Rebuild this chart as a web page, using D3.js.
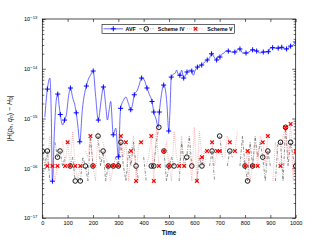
<!DOCTYPE html>
<html><head><meta charset="utf-8">
<script src="https://cdn.jsdelivr.net/npm/d3@7"></script>
<style>
html,body{margin:0;padding:0;background:#fff;}
svg{display:block;font-family:"Liberation Sans",Arial,sans-serif;}
</style></head>
<body>
<svg id="c" width="327" height="245"></svg>
<script>
// ---- data ----
const xTicks = [0,100,200,300,400,500,600,700,800,900,1000];
const yDecades = [-17,-16,-15,-14,-13];
const seriesNames = ["AVF","Scheme IV","Scheme V"];

const avfT = [10,20,30,35,40,48,55,61,66,71,80,88,95,104,111,120,128,134,140,148,158,167,174,182,190,201,210,221,232,241,250,257,264,270,280,290,300,309,320,330,340,349,356,363,375,382,392,402,413,423,433,440,450,457,462,470,479,485,492,499,504,509,518,525,530,536,543,550,558,571,584,590,596,604,612,629,640,651,660,668,678,688,695,701,710,717,725,734,746,760,770,780,790,804,815,830,846,860,872,882,892,900,909,920,931,945,955,964,975,980,990,1000];
const avfV = [1.07e-15,3.9e-15,6.5e-15,1.5e-15,5.5e-17,5.9e-16,2.3e-15,3.1e-15,1.9e-15,1.2e-15,7.4e-16,9.3e-16,1.2e-15,2.9e-15,4.1e-15,2.6e-15,1.9e-15,1.3e-15,7.4e-16,3.4e-16,1.5e-15,3.2e-15,4.5e-15,6.2e-15,7.4e-15,9.0e-15,3.0e-15,9.3e-16,2.3e-15,4.3e-15,1.9e-15,9.3e-16,1.5e-15,2.2e-15,4.7e-16,6.4e-16,1.7e-16,1.6e-15,2.3e-15,2.7e-15,2.0e-15,1.5e-15,1.9e-15,3.0e-15,3.7e-15,4.7e-15,6.5e-15,6.0e-15,4.1e-15,3.0e-15,2.2e-15,1.35e-15,9.3e-16,6.7e-16,1.35e-15,3.0e-15,4.7e-15,4.0e-15,1.9e-15,5.6e-16,1.5e-15,6.8e-15,7.8e-15,8.2e-15,9.4e-15,7.8e-15,7.4e-15,9.4e-15,6.5e-15,8.6e-15,9.4e-15,9.0e-15,7.4e-15,9.4e-15,1.08e-14,1.19e-14,1.36e-14,1.5e-14,1.65e-14,2.0e-14,1.72e-14,1.5e-14,1.8e-14,1.72e-14,2.0e-14,2.07e-14,2.27e-14,2.27e-14,2.17e-14,2.17e-14,2.4e-14,2.5e-14,2.07e-14,2.07e-14,2.17e-14,2.4e-14,2.27e-14,2.07e-14,2.17e-14,2.17e-14,2.2e-14,2.6e-14,2.65e-14,2.6e-14,2.6e-14,2.7e-14,2.5e-14,2.5e-14,2.7e-14,2.85e-14,3.0e-14,3.45e-14];
const avfMarkT = [20,40,61,71,88,111,134,148,174,201,221,241,280,300,309,349,363,392,413,433,440,462,479,499,509,543,558,571,590,612,629,651,668,688,701,734,760,780,804,830,846,872,892,909,931,945,964,980,1000];

// time grid for Schemes IV and V (0..1000 step 10); 0 = exact (no point on log axis)
const schemeT = d3.range(0,1001,10);
const schemeIV = [2.22e-16,1.11e-16,2.22e-16,5.55e-17,0,3.33e-16,1.67e-16,2.22e-16,1.11e-16,1.67e-16,
0,1.11e-16,1.67e-16,5.55e-17,0,5.55e-17,1.67e-16,1.11e-16,5.55e-17,4.44e-16,
1.11e-16,0,4.44e-16,1.11e-16,2.22e-16,5.55e-17,1.11e-16,0,1.11e-16,1.67e-16,
1.11e-16,3.33e-16,1.11e-16,5.55e-17,2.22e-16,1.11e-16,3.33e-16,1.11e-16,5.55e-17,0,
1.67e-16,5.55e-17,0,1.11e-16,1.11e-16,3.33e-16,6.66e-16,0,2.22e-16,5.55e-17,
1.11e-16,1.67e-16,1.11e-16,0,5.55e-17,3.33e-16,1.11e-16,1.67e-16,4.44e-16,1.11e-16,
0,5.55e-17,1.67e-16,1.11e-16,2.22e-16,0,1.11e-16,2.22e-16,5.55e-17,0,
4.44e-16,1.67e-16,0,1.11e-16,2.22e-16,1.67e-16,0,0,1.11e-16,4.44e-16,
1.11e-16,5.55e-17,3.33e-16,1.11e-16,4.44e-16,1.67e-16,3.33e-16,1.67e-16,5.55e-17,2.22e-16,
1.11e-16,0,5.55e-17,3.33e-16,3.33e-16,5.55e-17,6.66e-16,1.11e-16,3.33e-16,1.67e-16,
1.11e-16];
const schemeIVMarkT = [0,20,60,70,110,130,150,170,200,220,240,260,280,300,310,370,430,440,460,480,500,520,570,590,630,670,700,740,800,810,830,870,890,940,960,980,1000];

const schemeV = [0,1.67e-16,1.11e-16,4.44e-16,1.11e-16,5.55e-17,1.11e-16,0,3.33e-16,1.11e-16,
3.33e-16,1.11e-16,5.55e-16,1.11e-16,5.55e-17,1.11e-16,0,2.22e-16,1.67e-16,4.44e-16,
1.11e-16,5.55e-17,5.55e-16,0,3.33e-16,1.67e-16,1.11e-16,5.55e-17,1.11e-16,0,
1.11e-16,4.44e-16,1.67e-16,3.33e-16,5.55e-17,2.22e-16,4.44e-16,5.55e-17,3.33e-16,3.33e-16,
0,1.11e-16,1.67e-16,4.44e-16,5.55e-17,6.66e-16,1.11e-16,0,2.22e-16,3.33e-16,
1.11e-16,5.55e-17,5.55e-16,1.67e-16,1.11e-16,4.44e-16,1.11e-16,0,2.22e-16,5.55e-17,
6.66e-16,5.55e-17,5.55e-16,1.67e-16,1.11e-16,2.22e-16,0,3.33e-16,1.11e-16,2.22e-16,
2.22e-16,0,1.67e-16,4.44e-16,3.33e-16,0,2.22e-16,5.55e-16,0,1.67e-16,
1.11e-16,2.22e-16,5.55e-17,1.11e-16,3.33e-16,1.11e-16,4.44e-16,3.33e-16,1.11e-16,4.44e-16,
0,5.55e-17,3.33e-16,1.67e-16,1.11e-16,4.44e-16,6.66e-16,1.67e-16,7.77e-16,5.55e-17,
2.22e-16];
const schemeVMarkT = [20,40,60,90,100,110,130,150,190,200,260,280,300,310,330,350,370,390,430,440,460,480,500,540,560,610,630,650,670,690,700,740,760,800,810,830,850,870,890,940,960,980,1000];

// ---- drawing ----
const svg = d3.select("#c");
const L = 42.3, R = 295.7, T = 19, B = 218;
const x = d3.scaleLinear().domain([0,1000]).range([L,R]);
const y = d3.scaleLog().domain([1e-17,1e-13]).range([B,T]);

svg.append("rect").attr("x",0).attr("y",0).attr("width",327).attr("height",245).attr("fill","#fff");

const majorY = yDecades.map(e => Math.pow(10,e));
const minorY = [];
yDecades.slice(0,-1).forEach(e => { for (let k=2;k<=9;k++) minorY.push(k*Math.pow(10,e)); });

function styleAxis(g){
  g.select(".domain").remove();
  g.selectAll(".tick line").attr("stroke","#000").attr("stroke-width",0.6);
}
// bottom
svg.append("g").attr("transform",`translate(0,${B})`)
  .call(d3.axisBottom(x).tickValues(xTicks).tickSizeInner(-3).tickSizeOuter(0).tickPadding(3.5).tickFormat(d3.format("d")))
  .call(styleAxis)
  .call(g => g.selectAll("text").attr("font-size",5.6).attr("fill","#000").attr("font-family","Liberation Sans, Arial, sans-serif"));
// top
svg.append("g").attr("transform",`translate(0,${T})`)
  .call(d3.axisTop(x).tickValues(xTicks).tickSizeInner(-3).tickSizeOuter(0).tickFormat(""))
  .call(styleAxis);
// left major
const leftAx = svg.append("g").attr("transform",`translate(${L},0)`)
  .call(d3.axisLeft(y).tickValues(majorY).tickSizeInner(-3.5).tickSizeOuter(0).tickFormat(""))
  .call(styleAxis);
leftAx.selectAll(".tick").each(function(d){
  const t = d3.select(this).append("text").attr("x",-5).attr("dy","0.35em")
    .attr("text-anchor","end").attr("font-size",5.6).attr("fill","#000");
  t.append("tspan").text("10");
  t.append("tspan").attr("dy","-2.6").attr("font-size",4.2).text("\u2212" + Math.abs(Math.round(Math.log10(d))));
});
svg.append("g").attr("transform",`translate(${L},0)`)
  .call(d3.axisLeft(y).tickValues(minorY).tickSizeInner(-2).tickSizeOuter(0).tickFormat(""))
  .call(styleAxis);
// right
svg.append("g").attr("transform",`translate(${R},0)`)
  .call(d3.axisRight(y).tickValues(majorY).tickSizeInner(-3.5).tickSizeOuter(0).tickFormat(""))
  .call(styleAxis);
svg.append("g").attr("transform",`translate(${R},0)`)
  .call(d3.axisRight(y).tickValues(minorY).tickSizeInner(-2).tickSizeOuter(0).tickFormat(""))
  .call(styleAxis);

// frame
svg.append("rect").attr("x",L).attr("y",T).attr("width",R-L).attr("height",B-T)
  .attr("fill","none").attr("stroke","#000").attr("stroke-width",0.7);

svg.append("clipPath").attr("id","pc").append("rect")
  .attr("x",L).attr("y",T).attr("width",R-L).attr("height",B-T);
const plot = svg.append("g").attr("clip-path","url(#pc)");

// AVF
const avf = avfT.map((t,i)=>({t, v: avfV[i]}));
plot.append("path").datum(avf)
  .attr("d", d3.line().x(d=>x(d.t)).y(d=>y(d.v)).curve(d3.curveMonotoneX))
  .attr("fill","none").attr("stroke","#2a2aff").attr("stroke-width",0.7);

// Scheme IV
const s4 = schemeT.map((t,i)=>({t, v: schemeIV[i]}));
plot.append("path").datum(s4)
  .attr("d", d3.line().defined(d=>d.v>0).x(d=>x(d.t)).y(d=>y(d.v)))
  .attr("fill","none").attr("stroke","#444").attr("stroke-width",0.6).attr("stroke-dasharray","3,1.5,0.8,1.5");
// Scheme V
const s5 = schemeT.map((t,i)=>({t, v: schemeV[i]}));
plot.append("path").datum(s5)
  .attr("d", d3.line().defined(d=>d.v>0).x(d=>x(d.t)).y(d=>y(d.v)))
  .attr("fill","none").attr("stroke","#ff5a5a").attr("stroke-width",0.55).attr("stroke-dasharray","0.8,1.3");

function plus(g, cx, cy, s, col){
  g.append("path").attr("d",`M${cx-s},${cy}H${cx+s}M${cx},${cy-s}V${cy+s}`)
    .attr("stroke",col).attr("stroke-width",1).attr("fill","none");
}
function cross(g, cx, cy, s, col){
  g.append("path").attr("d",`M${cx-s},${cy-s}L${cx+s},${cy+s}M${cx-s},${cy+s}L${cx+s},${cy-s}`)
    .attr("stroke",col).attr("stroke-width",1.2).attr("fill","none");
}
function circ(g, cx, cy, r){
  g.append("circle").attr("cx",cx).attr("cy",cy).attr("r",r)
    .attr("fill","none").attr("stroke","#000").attr("stroke-width",0.9);
}
const vAt = (arr, t) => arr[schemeT.indexOf(t)];
avfMarkT.forEach(t => { const i = avfT.indexOf(t); plus(plot, x(t), y(avfV[i]), 2.5, "#0000ff"); });
schemeIVMarkT.forEach(t => circ(plot, x(t), y(vAt(schemeIV,t)), 2.3));
schemeVMarkT.forEach(t => cross(plot, x(t), y(vAt(schemeV,t)), 1.8, "#ff0000"));

// legend
const lg = svg.append("g");
lg.append("rect").attr("x",102).attr("y",24.3).attr("width",132.3).attr("height",9)
  .attr("fill","#fff").attr("stroke","#000").attr("stroke-width",0.6);
const ly = 28.8;
lg.append("line").attr("x1",103.5).attr("x2",123).attr("y1",ly).attr("y2",ly).attr("stroke","#2a2aff").attr("stroke-width",0.7);
plus(lg, 113.3, ly, 2.5, "#0000ff");
lg.append("line").attr("x1",139).attr("x2",153.5).attr("y1",ly).attr("y2",ly).attr("stroke","#444").attr("stroke-width",0.6).attr("stroke-dasharray","3,1.5,0.8,1.5");
circ(lg, 146.3, ly, 2.3);
lg.append("line").attr("x1",187).attr("x2",203.5).attr("y1",ly).attr("y2",ly).attr("stroke","#ff5a5a").attr("stroke-width",0.55).attr("stroke-dasharray","0.8,1.3");
cross(lg, 195.5, ly, 1.8, "#ff0000");
[[125.5,seriesNames[0]],[157.7,seriesNames[1]],[207.3,seriesNames[2]]].forEach(([lx,s])=>{
  lg.append("text").attr("x",lx).attr("y",ly).attr("dy","0.35em").attr("font-size",5.3)
    .attr("font-weight","bold").attr("fill","#000").text(s);
});

// axis labels
svg.append("text").attr("x",(L+R)/2).attr("y",235).attr("text-anchor","middle")
  .attr("font-size",6.3).attr("font-weight","bold").attr("fill","#000").text("Time");
const yl = svg.append("text").attr("transform",`translate(12,${(T+B)/2}) rotate(-90)`)
  .attr("text-anchor","middle").attr("font-size",7).attr("fill","#000");
yl.append("tspan").text("|");
yl.append("tspan").attr("font-style","italic").text("H");
yl.append("tspan").text("(");
yl.append("tspan").attr("font-style","italic").text("p");
yl.append("tspan").attr("font-style","italic").attr("font-size",4.8).attr("dy","1.4").text("n");
yl.append("tspan").attr("dy","-1.4").text(", ");
yl.append("tspan").attr("font-style","italic").text("q");
yl.append("tspan").attr("font-style","italic").attr("font-size",4.8).attr("dy","1.4").text("n");
yl.append("tspan").attr("dy","-1.4").text(") \u2212 ");
yl.append("tspan").attr("font-style","italic").text("H");
yl.append("tspan").attr("font-size",4.8).attr("dy","1.4").text("0");
yl.append("tspan").attr("dy","-1.4").text("|");
</script>
</body></html>
